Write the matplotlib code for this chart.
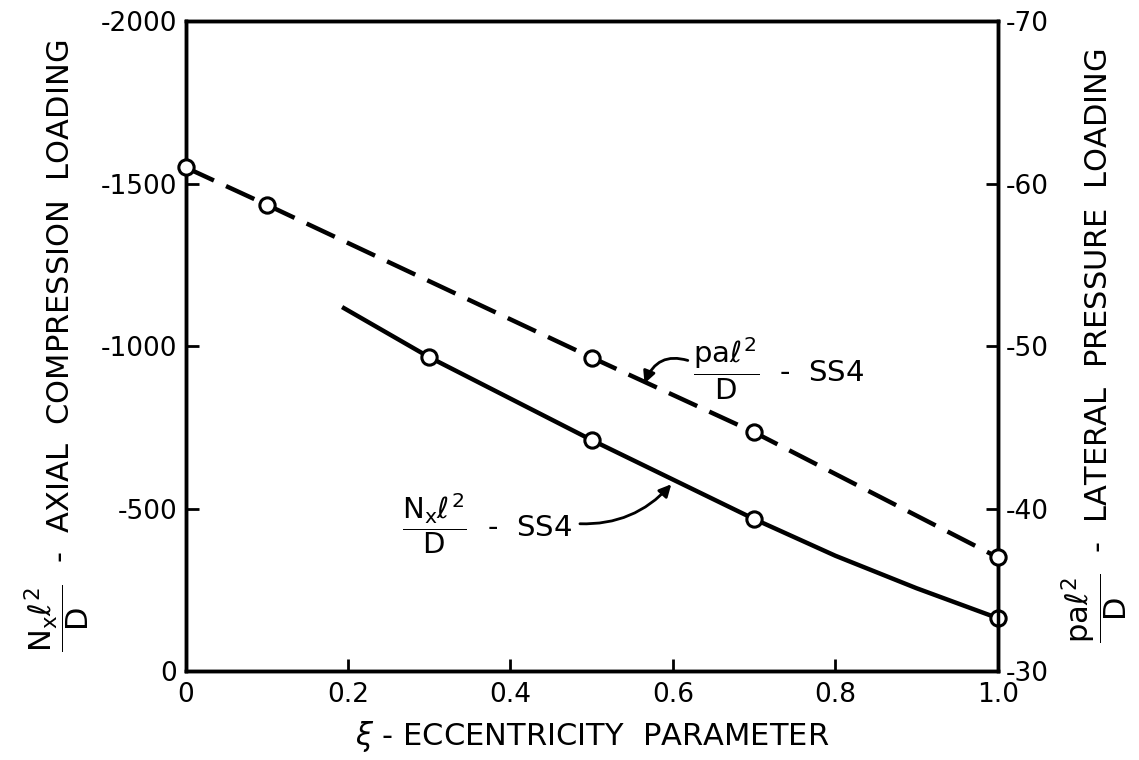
import matplotlib.pyplot as plt

plt.rcParams['font.family'] = 'DejaVu Sans'
plt.rcParams['mathtext.fontset'] = 'dejavusans'

# Nx l^2 / D - SS4 (left axis, solid)
xi_axial = [0.195, 0.3, 0.5, 0.7, 0.8, 0.9, 1.0]
axial = [-1117, -966, -711, -468, -355, -255, -163]
axial_marks = [1, 2, 3, 6]  # points drawn with circles

# pa l^2 / D - SS4 (right axis, dashed)
xi_lat = [0.0, 0.1, 0.5, 0.7, 1.0]
lateral = [-61.0, -58.7, -49.3, -44.7, -37.0]

x_ticks = [0, 0.2, 0.4, 0.6, 0.8, 1.0]
x_labels = ['0', '0.2', '0.4', '0.6', '0.8', '1.0']
left_ticks = [0, -500, -1000, -1500, -2000]
right_ticks = [-30, -40, -50, -60, -70]

fig = plt.figure(figsize=(11.39, 7.6), dpi=100)
ax = fig.add_axes([0.163, 0.117, 0.713, 0.855])
ax2 = ax.twinx()

ax.plot(xi_axial, axial, color='black', lw=3.2, marker='o', markevery=axial_marks,
        ms=11, mfc='white', mec='black', mew=2.2, clip_on=False, zorder=5)
ax2.plot(xi_lat, lateral, color='black', lw=3.2, dashes=(7, 3), marker='o',
         ms=11, mfc='white', mec='black', mew=2.2, clip_on=False, zorder=5)

ax.set_xlim(0, 1.0)
ax.set_ylim(0, -2000)
ax2.set_ylim(-30, -70)

ax.set_xticks(x_ticks)
ax.set_xticklabels(x_labels)
ax.set_yticks(left_ticks)
ax.set_yticklabels([str(t) for t in left_ticks])
ax2.set_yticks(right_ticks)
ax2.set_yticklabels([str(t) for t in right_ticks])

for a in (ax, ax2):
    for s in a.spines.values():
        s.set_linewidth(2.5)
    a.tick_params(direction='in', length=9, width=2, labelsize=19, pad=6)
ax.tick_params(axis='x', pad=8)

ax.set_xlabel(r'$\xi$ - ECCENTRICITY  PARAMETER', fontsize=22, labelpad=8)
ax.set_ylabel(r'$\dfrac{\mathrm{N_x}\ell^2}{\mathrm{D}}$  -  AXIAL  COMPRESSION  LOADING',
              fontsize=22, labelpad=6)
ax2.set_ylabel(r'$\dfrac{\mathrm{pa}\ell^2}{\mathrm{D}}$  -  LATERAL  PRESSURE  LOADING',
               fontsize=22, labelpad=8)

# curve labels with arrows
ax2.annotate(r'$\dfrac{\mathrm{pa}\ell^2}{\mathrm{D}}$  -  SS4', xy=(0.565, -47.7),
             xytext=(0.625, -48.6), fontsize=21, va='center', ha='left',
             arrowprops=dict(arrowstyle='-|>', color='black', lw=2,
                             connectionstyle='arc3,rad=0.5', mutation_scale=18,
                             shrinkA=2, shrinkB=0, relpos=(0, 0.6)))
ax.annotate(r'$\dfrac{\mathrm{N_x}\ell^2}{\mathrm{D}}$  -  SS4', xy=(0.598, -575),
            xytext=(0.266, -455), fontsize=21, va='center', ha='left',
            arrowprops=dict(arrowstyle='-|>', color='black', lw=2,
                            connectionstyle='arc3,rad=0.25', mutation_scale=18,
                            shrinkA=4, shrinkB=0, relpos=(1, 0.5)))

fig.savefig('out.png', dpi=100)
